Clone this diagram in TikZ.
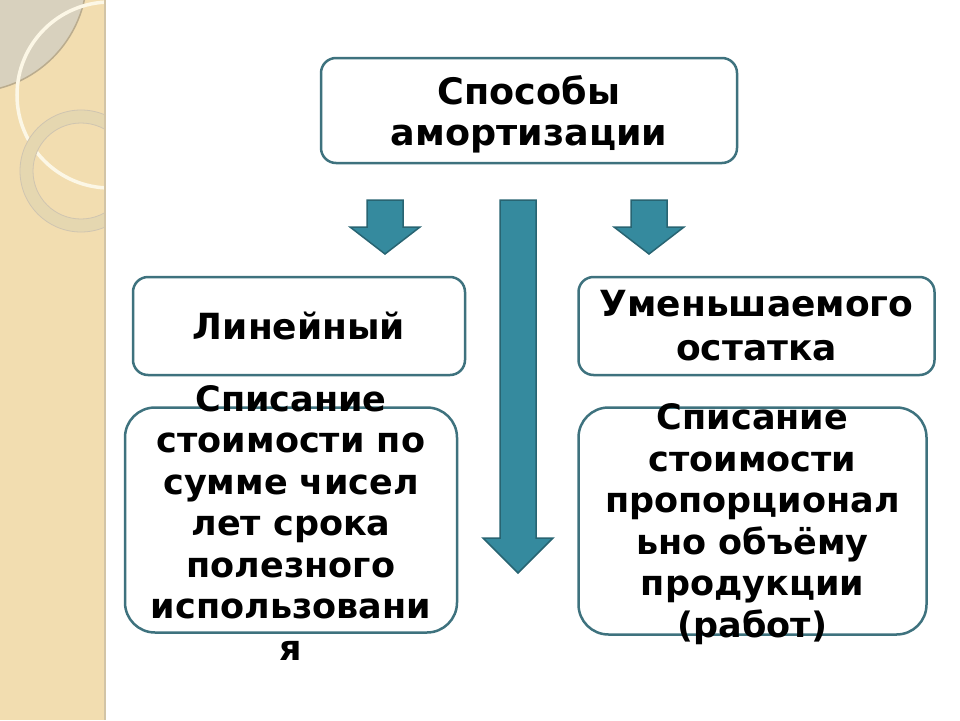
\documentclass[tikz,border=0pt]{standalone}
\usepackage{fontspec}
\setmainfont{DejaVu Sans}
\usetikzlibrary{
    positioning,
    calc
}

\definecolor{boxline}{RGB}{62,114,126}
\definecolor{arrowfill}{RGB}{53,138,158}
\definecolor{arrowline}{RGB}{40,100,114}
\definecolor{stripbg}{RGB}{242,221,176}
\definecolor{stripedge}{RGB}{210,196,166}
\definecolor{leafgray}{RGB}{216,209,190}
\definecolor{leafedge}{RGB}{186,172,142}
\definecolor{ringcol}{RGB}{229,215,176}
\definecolor{cream}{RGB}{252,247,230}

\begin{document}
\begin{tikzpicture}[
    x=1pt, y=-1pt,
    methodbox/.style={
        draw=boxline,
        line width=2.5pt,
        fill=white,
        rounded corners=15pt,
        align=center,
        inner sep=0pt,
    },
    descbox/.style={
        methodbox,
        rounded corners=30pt,
    },
    desctext/.style={
        align=center,
        inner sep=0pt,
        font=\bfseries\fontsize{35}{41.5}\selectfont,
    },
    blockarrow/.style={
        fill=arrowfill,
        draw=arrowline,
        line width=1.5pt,
    },
]
    \useasboundingbox (0,0) rectangle (960,720);

    % decorative strip on the left
    \fill[stripbg] (0,0) rectangle (104,720);
    \begin{scope}
        \clip (0,0) rectangle (104,720);
        \fill[leafgray] (-30,-25) circle (117);
        \draw[leafedge, line width=1.5pt] (-30,-25) circle (117);
        \draw[cream, line width=3.5pt] (110,95) circle (93);
        \draw[ringcol, line width=13pt] (81,171) circle (54.5);
        \draw[leafedge!70, line width=0.8pt] (81,171) circle (61);
        \draw[leafedge!70, line width=0.8pt] (81,171) circle (48);
    \end{scope}
    \draw[stripedge, line width=2pt] (105,0) -- (105,720);

    % boxes
    \node[methodbox, minimum width=416pt, minimum height=105pt, text depth=0pt,
          font=\bfseries\fontsize{36.5}{41}\selectfont] (top) at (529,110.5)
          {Способы\\амортизации};
    \node[methodbox, minimum width=332pt, minimum height=98pt,
          font=\bfseries\fontsize{36}{42}\selectfont] (lin) at (299,326) {Линейный};
    \node[methodbox, minimum width=356pt, minimum height=98pt,
          font=\bfseries\fontsize{36}{44}\selectfont] (umen) [right=111pt of lin]
          {Уменьшаемого\\остатка};

    \node[descbox, minimum width=332pt, minimum height=225pt] (lsp)
          [below=30pt of lin, xshift=-8pt] {};
    \node[descbox, minimum width=348pt, minimum height=227pt] (rsp)
          [below=30pt of umen, xshift=-4pt] {};

    \node[desctext] (lsptext) at ([yshift=-3pt]lsp.center)
          {Списание\\стоимости по\\сумме чисел\\лет срока\\полезного\\использовани\\я};
    \node[desctext] (rsptext) at ([yshift=-3pt]rsp.center)
          {Списание\\стоимости\\пропорционал\\ьно объёму\\продукции\\(работ)};

    % arrows
    \foreach \cx in {385,649}{
        \draw[blockarrow] (\cx-18,200) -- (\cx+18,200) -- (\cx+18,227) -- (\cx+35,227)
            -- (\cx,254) -- (\cx-35,227) -- (\cx-18,227) -- cycle;
    }
    \draw[blockarrow] (500,200) -- (536,200) -- (536,538) -- (553,538)
        -- (518,573) -- (483,538) -- (500,538) -- cycle;

\end{tikzpicture}
\end{document}
